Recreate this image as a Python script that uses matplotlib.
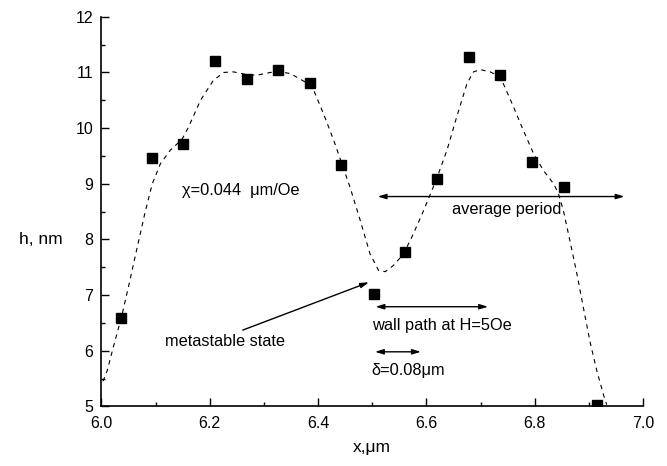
import matplotlib
matplotlib.use("Agg")
import matplotlib.pyplot as plt
from matplotlib.ticker import MultipleLocator

plt.rcParams['font.family'] = ['Liberation Sans', 'DejaVu Sans']

# measured points
x_pts = [6.037, 6.093, 6.151, 6.210, 6.268, 6.326, 6.385, 6.443,
         6.503, 6.561, 6.619, 6.678, 6.736, 6.795, 6.855, 6.915]
h_pts = [6.58, 9.47, 9.71, 11.20, 10.89, 11.05, 10.81, 9.34,
         7.02, 7.77, 9.09, 11.28, 10.95, 9.39, 8.94, 5.03]

# dashed guide curve
x_fit = [6.003, 6.011, 6.023, 6.037, 6.050, 6.066, 6.081, 6.094, 6.109, 6.127,
         6.149, 6.161, 6.183, 6.207, 6.226, 6.244, 6.269, 6.287, 6.312, 6.330,
         6.349, 6.376, 6.392, 6.410, 6.429, 6.444, 6.459, 6.478, 6.496, 6.512,
         6.524, 6.539, 6.558, 6.576, 6.595, 6.619, 6.638, 6.656, 6.675, 6.687,
         6.700, 6.718, 6.730, 6.742, 6.761, 6.779, 6.798, 6.816, 6.835, 6.844,
         6.853, 6.865, 6.878, 6.890, 6.902, 6.915, 6.927, 6.933]
h_fit = [5.45, 5.65, 6.10, 6.60, 7.15, 7.85, 8.50, 9.00, 9.36, 9.60,
         9.80, 10.02, 10.50, 10.86, 11.00, 11.01, 10.96, 10.95, 11.00, 11.01,
         10.98, 10.83, 10.68, 10.26, 9.78, 9.36, 8.94, 8.34, 7.74, 7.44,
         7.42, 7.53, 7.74, 8.10, 8.52, 9.09, 9.60, 10.20, 10.80, 11.01,
         11.05, 11.01, 10.95, 10.80, 10.38, 9.96, 9.54, 9.24, 9.00, 8.82,
         8.52, 7.98, 7.38, 6.77, 6.17, 5.63, 5.21, 5.03]

fig = plt.figure(figsize=(6.67, 4.66), dpi=100)
ax = fig.add_axes([0.152, 0.128, 0.812, 0.836])

ax.plot(x_fit, h_fit, color='black', lw=0.8, linestyle=(0, (4, 4)))
ax.plot(x_pts, h_pts, 's', color='black', markersize=6.5)

ax.set_xlim(6.0, 7.0)
ax.set_ylim(5, 12)
ax.xaxis.set_major_locator(MultipleLocator(0.2))
ax.xaxis.set_minor_locator(MultipleLocator(0.1))
ax.yaxis.set_major_locator(MultipleLocator(1))
ax.yaxis.set_minor_locator(MultipleLocator(0.5))
ax.xaxis.set_major_formatter(plt.FormatStrFormatter('%.1f'))
ax.tick_params(which='both', direction='in', labelsize=11.5, width=1)
ax.tick_params(which='major', length=6)
ax.tick_params(which='minor', length=3)
ax.tick_params(axis='x', pad=7)
ax.tick_params(axis='y', pad=6)
for s in ['top', 'right']:
    ax.spines[s].set_visible(False)
for s in ['left', 'bottom']:
    ax.spines[s].set_linewidth(1.2)

ax.text(-0.112, 3 / 7, 'h, nm', transform=ax.transAxes, fontsize=12.5,
        ha='center', va='center')
ax.text(0.5, -0.105, 'x,\u03bcm', transform=ax.transAxes, fontsize=12.5,
        ha='center', va='center')

arrow_dbl = dict(arrowstyle='<|-|>,head_length=0.5,head_width=0.15',
                 color='black', lw=1, shrinkA=0, shrinkB=0)
fs = 11.8

ax.text(6.149, 8.88, '\u03c7=0.044  \u03bcm/Oe', fontsize=fs, va='center')

ax.annotate('', xy=(6.510, 8.77), xytext=(6.966, 8.77), arrowprops=arrow_dbl)
ax.text(6.748, 8.53, 'average period', fontsize=fs, ha='center', va='center')

ax.annotate('', xy=(6.494, 7.23), xytext=(6.261, 6.37),
            arrowprops=dict(arrowstyle='-|>,head_length=0.5,head_width=0.15',
                            color='black', lw=1, shrinkA=0, shrinkB=0))
ax.text(6.117, 6.17, 'metastable state', fontsize=fs, va='center')

ax.annotate('', xy=(6.506, 6.79), xytext=(6.714, 6.79), arrowprops=arrow_dbl)
ax.text(6.500, 6.45, 'wall path at H=5Oe', fontsize=fs, va='center')

ax.annotate('', xy=(6.505, 5.98), xytext=(6.590, 5.98), arrowprops=arrow_dbl)
ax.text(6.498, 5.64, '\u03b4=0.08\u03bcm', fontsize=fs, va='center')

fig.savefig('out.png', dpi=100)
